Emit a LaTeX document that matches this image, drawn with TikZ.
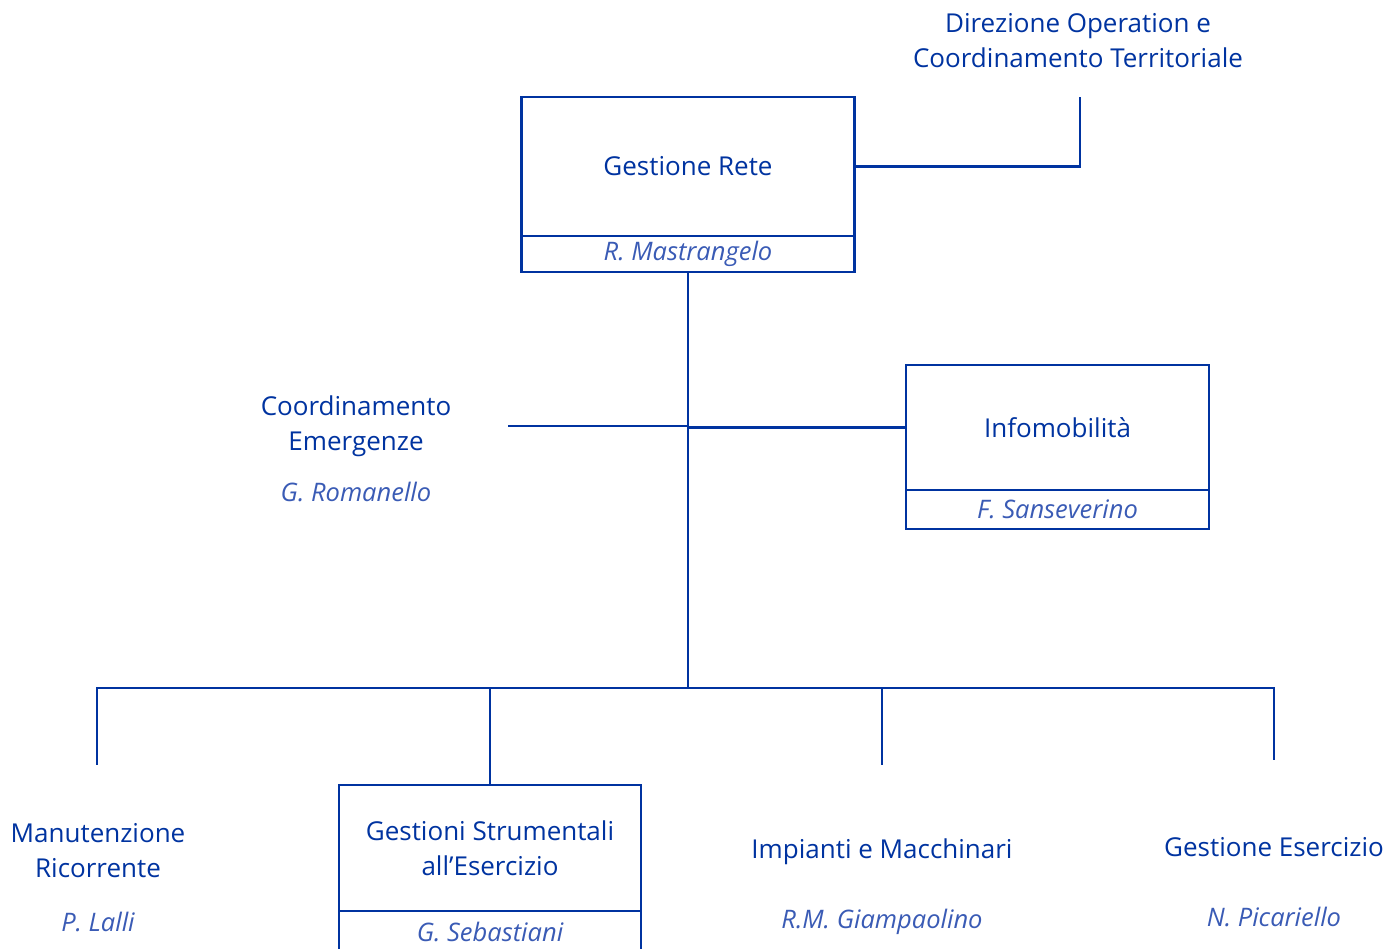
\documentclass[tikz,border=0pt]{standalone}
\usepackage{fontspec}
\setmainfont{Open Sans}
\usetikzlibrary{positioning,calc}
\definecolor{OrgBlue}{HTML}{0033A0}
\definecolor{OrgName}{HTML}{3A5BB5}

\begin{document}
\begin{tikzpicture}[x=1pt,y=-1pt,line width=2.8pt,draw=OrgBlue,
    unitbox/.style={draw=OrgBlue,line width=2.7pt,minimum width=333pt,inner sep=0pt,align=center,text=OrgBlue,font=\fontsize{26}{35}\selectfont},
    namebox/.style={draw=OrgBlue,line width=1.4pt,minimum width=333pt,minimum height=37pt,inner sep=0pt,text=OrgName,font=\fontsize{25.5}{35}\selectfont\itshape},
    unittext/.style={align=center,text=OrgBlue,font=\fontsize{26}{35}\selectfont},
    nametext/.style={text=OrgName,font=\fontsize{25.5}{35}\selectfont\itshape}]
  \useasboundingbox (0,0) rectangle (1389,948);

  \node[unittext] (dot) at (1078,41) {Direzione Operation e\\Coordinamento Territoriale};
  \coordinate (dotend) at (1080,97);

  \node[unitbox,minimum height=139pt] (gr) at (688,166.5) {Gestione Rete};
  \node[namebox,line width=2.2pt,minimum height=36pt] (grn) at (688,254) {R. Mastrangelo};
  \draw (gr.east) -| (dotend);

  \coordinate (bus) at (688,688);
  \draw (grn.south) -- (bus);

  \node[unittext] (ce) at (356,426) {Coordinamento\\Emergenze};
  \node[nametext] (cen) at (356,492) {G. Romanello};
  \coordinate (ceend) at (508,426);
  \draw (ceend) -- (grn.south |- ceend);

  \node[unitbox,minimum width=303pt,minimum height=125pt] (info) at (1057.5,427.5) {Infomobilità};
  \node[namebox,minimum width=303pt,minimum height=39pt] (infon) at (1057.5,509.5) {F. Sanseverino};
  \draw (grn.south |- info.west) -- (info.west);

  \node[unittext] (mr) at (98,851) {Manutenzione\\Ricorrente};
  \node[nametext] (mrn) at (98,922) {P. Lalli};
  \coordinate (mrtop) at (97,765);

  \node[unitbox,minimum width=302pt,minimum height=126pt] (gse) at (490,848) {Gestioni Strumentali\\all’Esercizio};
  \node[namebox,minimum width=302pt,minimum height=42pt] (gsen) at (490,932) {G. Sebastiani};

  \node[unittext] (im) at (882,852) {Impianti e Macchinari};
  \node[nametext] (imn) at (882,922) {R.M. Giampaolino};
  \coordinate (imtop) at (882,765);

  \node[unittext] (ge) at (1274,847) {Gestione Esercizio};
  \node[nametext] (gen) at (1274,917) {N. Picariello};
  \coordinate (getop) at (1274,760);

  \draw (bus) -| (mrtop);
  \draw (bus) -| (gse.north);
  \draw (bus) -| (imtop);
  \draw (bus) -| (getop);
\end{tikzpicture}
\end{document}
